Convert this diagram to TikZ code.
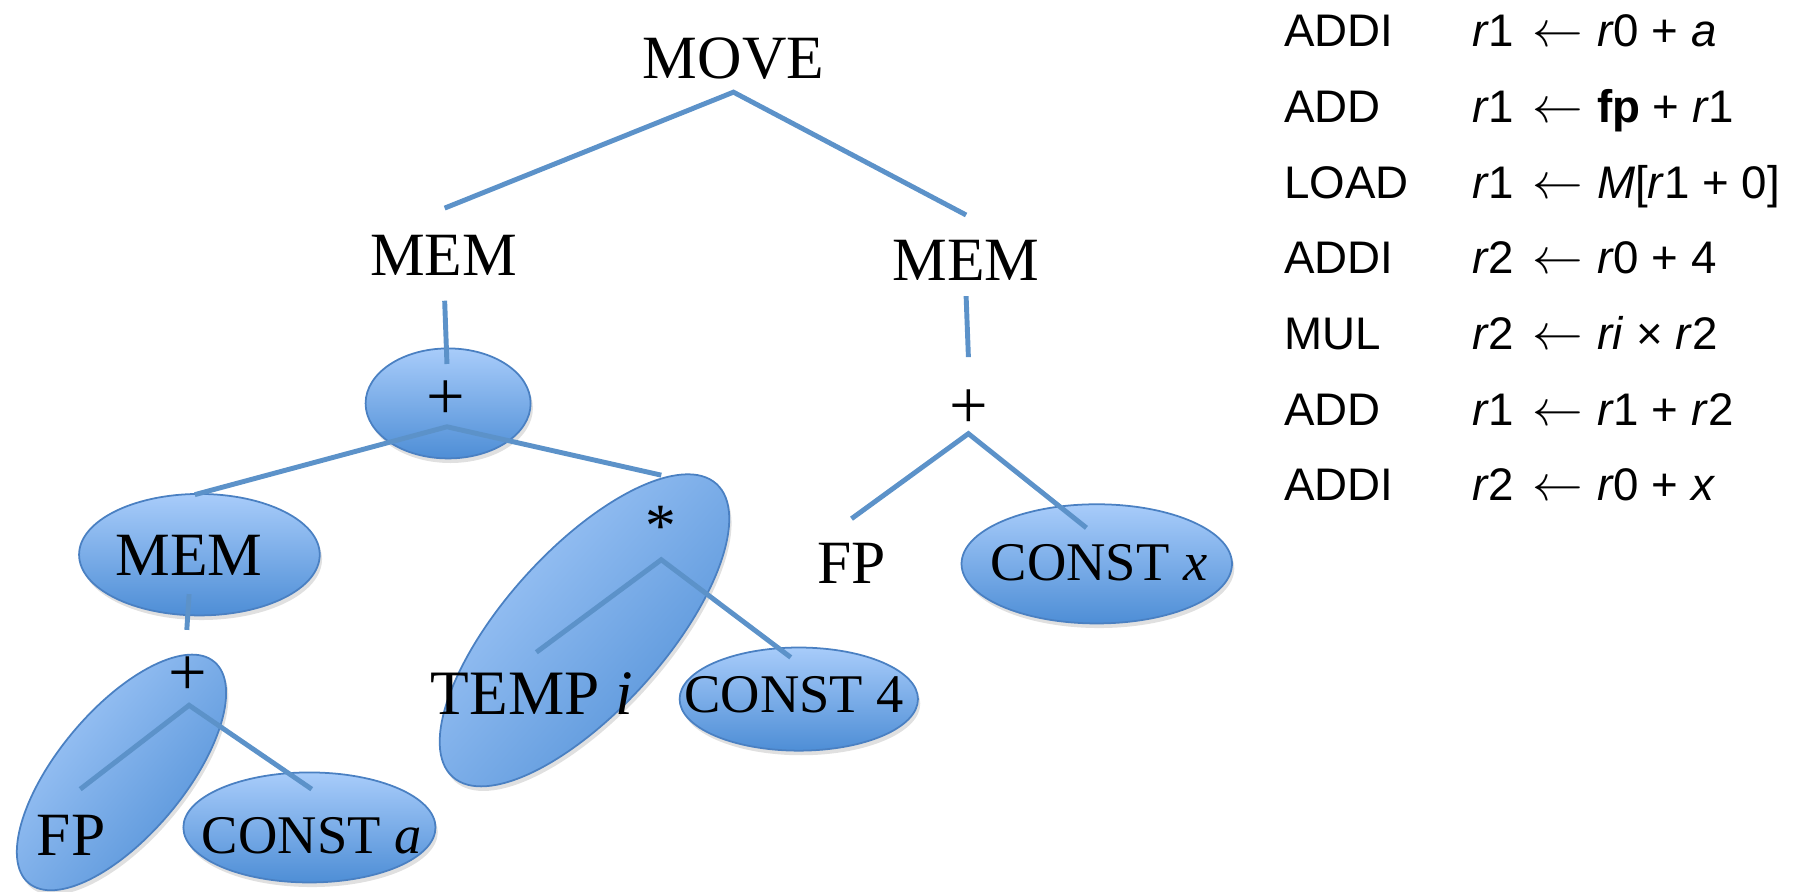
\documentclass[tikz,border=0pt]{standalone}
\usepackage{fontspec}
\setmainfont{Liberation Serif}
\newfontfamily\arialfont{Liberation Sans}
\usetikzlibrary{calc}
\definecolor{linec}{RGB}{92,146,201}
\definecolor{bordc}{RGB}{74,128,194}
\definecolor{topc}{RGB}{168,204,250}
\definecolor{botc}{RGB}{78,142,214}
\begin{document}
\begin{tikzpicture}[x=0.01146cm,y=-0.01146cm,
  tree/.style={font=\fontsize{17.5}{20}\selectfont, inner sep=0pt, text height=11.6pt, text depth=0pt},
  small/.style={tree, font=\fontsize{15.5}{18}\selectfont, text height=10.3pt},
  big/.style={tree, font=\fontsize{18}{21}\selectfont, text height=11.9pt},
  op/.style={tree, font=\fontsize{19.5}{22}\selectfont},
  edge/.style={draw=linec, line width=1.4pt},
  blob/.style={draw=bordc, line width=0.5pt, top color=topc, bottom color=botc},
  shad/.style={fill=black, opacity=0.12},
  instr/.style={font=\arialfont\fontsize{13}{15}\selectfont, inner sep=0pt, anchor=base west},
]
\newcommand{\lar}{\hspace{0.4em}{\fontsize{14.5}{15}\selectfont$\leftarrow$}\hspace{0.3em}}
\useasboundingbox (0,0) rectangle (1568,778);

% ---- highlighted tiles (ellipses) ----
\fill[shad] (393,356) ellipse [x radius=72, y radius=48];
\shade[blob] (391,352) ellipse [x radius=72, y radius=48];
\fill[shad] (176,488) ellipse [x radius=105, y radius=53];
\shade[blob] (174,484) ellipse [x radius=105, y radius=53];
\fill[shad, rotate around={50:(108,678)}] (108,678) ellipse [x radius=126, y radius=55];
\shade[blob, shading angle=50, rotate around={50:(106,674)}] (106,674) ellipse [x radius=126, y radius=55];
\fill[shad] (272,726) ellipse [x radius=110, y radius=48];
\shade[blob] (270,722) ellipse [x radius=110, y radius=48];
\fill[shad, rotate around={48:(512,554)}] (512,554) ellipse [x radius=172, y radius=70];
\shade[blob, shading angle=48, rotate around={48:(510,550)}] (510,550) ellipse [x radius=172, y radius=70];
\fill[shad] (699,614) ellipse [x radius=104, y radius=45];
\shade[blob] (697,610) ellipse [x radius=104, y radius=45];
\fill[shad] (959,496) ellipse [x radius=118, y radius=52];
\shade[blob] (957,492) ellipse [x radius=118, y radius=52];

% ---- tree nodes ----
\node[tree]  (move)   at (640,51)  {MOVE};
\node[tree]  (memL)   at (387,223) {MEM};
\node[tree]  (memR)   at (843,227) {MEM};
\node[op]    (plusL)  at (389,348) {+};
\node[op]    (plusR)  at (845,356) {+};
\node[tree]  (memLL)  at (165,484) {MEM};
\node[tree]  (star)   at (577,459) {*};
\node[tree]  (fpR)    at (743,491) {FP};
\node[small] (constX) at (959,491) {CONST \textit{x}};
\node[op]    (plusLL) at (164,589) {+};
\node[big]   (tempI)  at (464,605) {TEMP \textit{i}};
\node[small] (const4) at (693,606) {CONST 4};
\node[tree]  (fpL)    at (62,729)  {FP};
\node[small] (constA) at (272,729) {CONST \textit{a}};

% ---- connectors ----
\draw[edge] ($(memL.north)+(1,-23)$) -- ($(move.south)+(0,11)$) -- ($(memR.north)+(0,-21)$);
\draw[edge] ($(memL.south)+(1,21)$) -- ($(plusL.north)+(1,-12)$);
\draw[edge] ($(memR.south)+(0,13)$) -- ($(plusR.north)+(0,-26)$);
\draw[edge] ($(memLL.north)+(5,-34)$) -- ($(plusL.south)+(1,6)$) -- ($(star.north)+(0,-26)$);
\draw[edge] ($(fpR.north)+(0,-20)$) -- ($(plusR.south)+(0,4)$) -- ($(constX.north)+(-11,-14)$);
\draw[edge] ($(memLL.south)+(0,16)$) -- ($(plusLL.north)+(-1,-21)$);
\draw[edge] ($(fpL.north)+(8,-22)$) -- ($(plusLL.south)+(1,8)$) -- ($(constA.north)+(0,-24)$);
\draw[edge] ($(tempI.north)+(4,-17)$) -- ($(star.south)+(0,11)$) -- ($(const4.north)+(-3,-16)$);

% ---- instruction list ----
\node[instr] (op1) at (1120,41)  {ADDI};
\node[instr] (op2) at (1120,107) {ADD};
\node[instr] (op3) at (1120,173) {LOAD};
\node[instr] (op4) at (1120,239) {ADDI};
\node[instr] (op5) at (1120,305) {MUL};
\node[instr] (op6) at (1120,371) {ADD};
\node[instr] (op7) at (1120,437) {ADDI};
\node[instr] (ex1) at (1284,41)  {\textit{r}1\lar\textit{r}0 + \textit{a}};
\node[instr] (ex2) at (1284,107) {\textit{r}1\lar\textbf{fp} + \textit{r}1};
\node[instr] (ex3) at (1284,173) {\textit{r}1\lar\textit{M}[\textit{r}1 + 0]};
\node[instr] (ex4) at (1284,239) {\textit{r}2\lar\textit{r}0 + 4};
\node[instr] (ex5) at (1284,305) {\textit{r}2\lar\textit{ri} × \textit{r}2};
\node[instr] (ex6) at (1284,371) {\textit{r}1\lar\textit{r}1 + \textit{r}2};
\node[instr] (ex7) at (1284,437) {\textit{r}2\lar\textit{r}0 + \textit{x}};
\end{tikzpicture}
\end{document}
